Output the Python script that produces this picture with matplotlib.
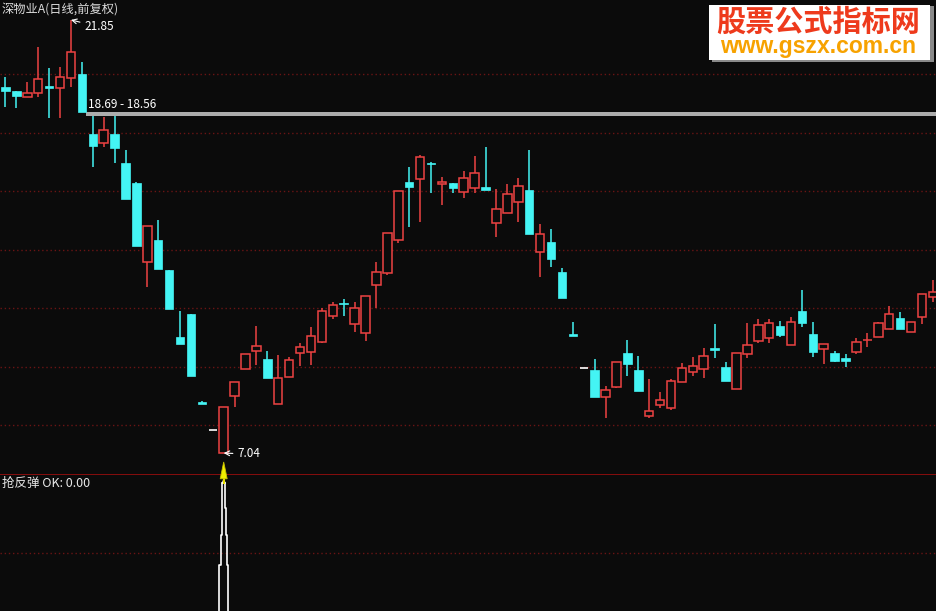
import matplotlib
matplotlib.use("Agg")
import matplotlib.pyplot as plt
from matplotlib.patches import Rectangle, Polygon

plt.rcParams['font.family'] = ['Noto Sans CJK SC', 'DejaVu Sans']

# daily candles: open, close, high, low
opens = [19.56, 19.42, 19.21, 19.35, 19.57, 19.52, 19.86, 20.00, 17.95, 17.64,
         17.95, 16.96, 16.27, 13.57, 14.33, 13.30, 11.01, 11.80, 8.79, 7.83,
         7.04, 8.99, 9.91, 10.53, 10.26, 8.72, 9.64, 10.46, 10.50, 10.84,
         11.73, 12.15, 11.45, 11.15, 12.79, 13.20, 14.33, 16.31, 16.41, 16.94,
         16.24, 16.27, 15.97, 16.10, 16.14, 14.91, 15.25, 15.62, 16.03, 13.91,
         14.26, 13.23, 11.11, 9.95, 9.88, 8.96, 9.30, 10.46, 9.88, 8.31,
         8.68, 8.58, 9.47, 9.81, 9.91, 10.61, 9.98, 9.23, 10.43, 10.87,
         10.97, 11.38, 10.74, 11.90, 11.11, 10.60, 10.46, 10.29, 10.50, 10.89,
         11.01, 11.28, 11.66, 11.18, 11.69, 12.38]
closes = [19.42, 19.25, 19.35, 19.83, 19.52, 19.90, 20.75, 18.69, 17.54, 18.09,
          17.47, 15.73, 14.12, 14.80, 13.33, 11.97, 10.77, 9.68, 8.72, 7.83,
          8.62, 9.47, 10.43, 10.70, 9.61, 9.61, 10.22, 10.67, 11.04, 11.90,
          12.10, 12.12, 12.00, 12.41, 13.23, 14.56, 16.00, 16.14, 17.16, 16.91,
          16.31, 16.10, 16.44, 16.62, 16.03, 15.38, 15.90, 16.17, 14.53, 14.53,
          13.68, 12.34, 11.04, 9.95, 8.96, 9.20, 10.15, 10.09, 9.16, 8.48,
          8.85, 9.50, 9.95, 10.02, 10.36, 10.58, 9.50, 10.46, 10.74, 11.42,
          11.49, 11.08, 11.52, 11.49, 10.50, 10.77, 10.19, 10.19, 10.84, 10.92,
          11.49, 11.80, 11.28, 11.52, 12.48, 12.55]
highs = [19.90, 19.42, 19.73, 20.92, 20.21, 20.24, 21.85, 20.41, 18.56, 18.53,
         18.55, 17.40, 16.31, 14.80, 15.01, 13.30, 11.90, 11.80, 8.82, 7.83,
         8.62, 9.47, 10.43, 11.38, 10.53, 10.39, 10.32, 10.80, 11.35, 12.00,
         12.21, 12.31, 12.21, 12.41, 13.57, 14.56, 16.00, 16.82, 17.23, 16.99,
         16.48, 16.27, 16.68, 17.20, 17.50, 16.07, 16.24, 16.44, 17.40, 14.87,
         14.70, 13.37, 11.52, 9.95, 10.26, 9.33, 10.15, 10.91, 10.36, 9.57,
         9.13, 9.57, 10.12, 10.32, 10.63, 11.45, 10.15, 10.46, 11.49, 11.62,
         11.62, 11.56, 11.69, 12.62, 11.52, 10.77, 10.53, 10.43, 10.97, 11.15,
         11.52, 12.07, 11.86, 11.52, 12.48, 12.96]
lows = [18.87, 18.84, 19.21, 19.21, 18.50, 18.50, 19.56, 18.69, 16.82, 17.50,
        16.96, 15.73, 14.12, 12.72, 13.33, 11.97, 10.77, 9.68, 8.72, 7.83,
        7.04, 8.62, 9.91, 10.05, 9.61, 8.72, 9.64, 10.02, 10.05, 10.80,
        11.62, 11.73, 11.18, 10.87, 12.00, 13.13, 14.22, 14.77, 14.94, 15.93,
        15.52, 15.93, 15.76, 15.93, 16.03, 14.43, 15.25, 14.94, 14.53, 13.06,
        13.40, 12.34, 11.04, 9.95, 8.96, 8.24, 9.27, 9.68, 9.16, 8.24,
        8.58, 8.51, 9.47, 9.68, 9.61, 10.29, 9.50, 9.23, 10.29, 10.80,
        10.80, 11.01, 10.74, 11.35, 10.32, 10.09, 10.15, 9.98, 10.43, 10.67,
        11.01, 11.28, 11.28, 11.18, 11.45, 12.21]

grid_prices = [8, 10, 12, 14, 16, 18, 20]
gap_low, gap_high = 18.56, 18.69
max_idx, min_idx = 6, 20

# indicator "抢反弹": fires on the bottom day
rebound = [0.0] * 20 + [1.0] + [0.0] * 65
spike_levels = [0.0, 0.336, 0.555, 0.752, 0.934]
spike_half = [0.39, 0.28, 0.20, 0.11]

BG = '#0b0b0b'
RED = '#ee4242'
CYAN = '#44f4f4'
GRID = '#6a1414'

fig = plt.figure(figsize=(9.36, 6.11), dpi=100, facecolor=BG)
H = 611.0
ax = fig.add_axes([0, 137 / H, 1, 474 / H], facecolor=BG)
ax2 = fig.add_axes([0, 0, 1, 137 / H], facecolor=BG)
n = len(opens)
for a in (ax, ax2):
    a.set_xlim(-0.504, 85.29)
    a.set_xticks([])
    a.set_yticks([])
    for s in a.spines.values():
        s.set_visible(False)
ax.set_ylim(6.325, 22.53)
ax2.set_ylim(0, 1)

for p in grid_prices:
    ax.axhline(p, color=GRID, lw=1, ls=(0, (1, 2)), zorder=0)
ax2.axhline(0.42, color=GRID, lw=1, ls=(0, (1, 2)), zorder=0)
ax2.axhline(1.0, color='#900e0e', lw=1.3, zorder=1)

w = 0.78
for i in range(n):
    o, c, h, l = opens[i], closes[i], highs[i], lows[i]
    top, bot = max(o, c), min(o, c)
    if o == c and h == l:
        ax.hlines(o, i - 0.36, i + 0.36, color='white', lw=1.2, zorder=3)
        continue
    if c > o:
        col = RED
        ax.vlines(i, top, h, color=col, lw=1.1, zorder=2)
        ax.vlines(i, l, bot, color=col, lw=1.1, zorder=2)
        ax.add_patch(Rectangle((i - w / 2, bot), w, max(top - bot, 0.03),
                               facecolor=BG, edgecolor=col, lw=1.1, zorder=3))
    else:
        col = CYAN
        ax.vlines(i, l, h, color=col, lw=1.1, zorder=2)
        ax.add_patch(Rectangle((i - w / 2, bot), w, max(top - bot, 0.06),
                               facecolor=col, edgecolor=col, lw=0.5, zorder=3))

# gap band after the high
ax.fill_between([max_idx + 1 + w / 2, 86], gap_low, gap_high, color='#acacac', lw=0, zorder=1)
ax.text(7.56, 18.97, f'{gap_high:.2f} - {gap_low:.2f}', color='white', fontsize=8.5,
        va='center', ha='left', zorder=5)

ax.annotate(f'{highs[max_idx]:.2f}', xy=(max_idx, highs[max_idx]), xytext=(7.2, 21.61),
            color='white', fontsize=8.5, va='center', ha='left',
            arrowprops=dict(arrowstyle='->', color='white', lw=0.8, shrinkA=1, shrinkB=0))
ax.annotate(f'{lows[min_idx]:.2f}', xy=(min_idx, lows[min_idx]), xytext=(21.22, 7.01),
            color='white', fontsize=8.5, va='center', ha='left',
            arrowprops=dict(arrowstyle='->', color='white', lw=0.8, shrinkA=1, shrinkB=0))

# indicator spike
for i, v in enumerate(rebound):
    if v <= 0:
        continue
    lx, rx, ys = [], [], []
    for k in range(len(spike_half)):
        y0, y1 = spike_levels[k] * v, spike_levels[k + 1] * v
        lx += [i - spike_half[k], i - spike_half[k]]
        rx += [i + spike_half[k], i + spike_half[k]]
        ys += [y0, y1]
    ax2.plot(lx, ys, color='white', lw=1.2, zorder=3)
    ax2.plot(rx, ys, color='white', lw=1.2, zorder=3)
    ax2.plot([i - 0.11, i, i + 0.11], [spike_levels[-1] * v, spike_levels[-1] * v + 0.02,
                                        spike_levels[-1] * v], color='white', lw=1.2, zorder=3)
    ax2.vlines(i, 0.93, 0.98, color='#e8e000', lw=1.5, zorder=4, clip_on=False)
    ax2.add_patch(Polygon([(i - 0.32, 0.965), (i + 0.32, 0.965), (i, 1.088)], closed=True,
                          facecolor='#f0ee00', edgecolor='#c8c000', lw=0.6, zorder=5,
                          clip_on=False))

fig.text(2 / 936, 1 - 9 / H, '深物业A(日线,前复权)', color='#dcdcdc', fontsize=8.8,
         va='center', ha='left')
fig.text(2 / 936, 1 - 483 / H, '抢反弹 OK: 0.00', color='#e8e8e8', fontsize=9,
         va='center', ha='left')

# watermark
fig.patches.append(Rectangle((712 / 936, 1 - 62 / H), 222 / 936, 56 / H,
                             transform=fig.transFigure, facecolor='#8a8a8a', lw=0, zorder=8))
fig.patches.append(Rectangle((709 / 936, 1 - 60 / H), 221 / 936, 55 / H,
                             transform=fig.transFigure, facecolor='white', lw=0, zorder=9))
fig.text(818.5 / 936, 1 - 21.5 / H, '股票公式指标网', color='#ee3a1c', fontsize=21,
         fontweight='bold', va='center', ha='center', zorder=10)
fig.text(818 / 936, 1 - 46 / H, 'www.gszx.com.cn', color='#f7a200', fontsize=16.5,
         fontweight='bold', family=['Liberation Sans', 'DejaVu Sans'],
         va='center', ha='center', zorder=10)

fig.savefig('out.png', dpi=100, facecolor=BG)
